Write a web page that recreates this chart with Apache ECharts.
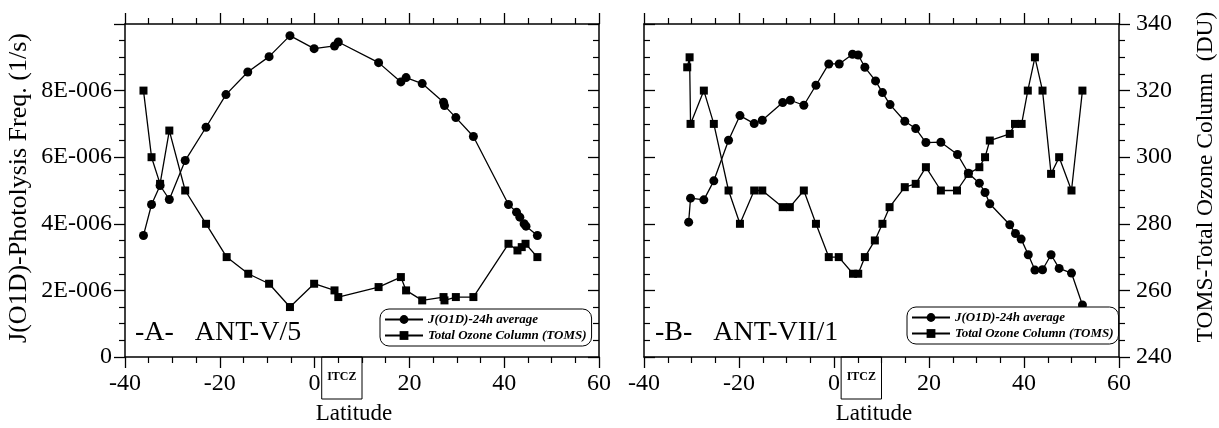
<!DOCTYPE html>
<html>
<head>
<meta charset="utf-8">
<script src="https://cdn.jsdelivr.net/npm/echarts@6/dist/echarts.min.js"></script>
<style>
  html, body { margin: 0; padding: 0; background: #fff; }
  #chart { width: 1219px; height: 428px; }
</style>
</head>
<body>
<div id="chart"></div>
<script>
// Panel A (ANT-V/5): J(O1D) 24h averages and TOMS total ozone along the cruise track
const latA_J = [-36.1, -34.4, -32.6, -30.65, -27.3, -22.9, -18.7, -14.1, -9.6, -5.2, -0.1, 4.2, 5.0, 13.5, 18.2, 19.3, 22.7, 27.2, 27.4, 29.8, 33.5, 40.9, 42.6, 43.3, 44.2, 44.6, 47.0];
const jA = [3.65e-6, 4.58e-6, 5.15e-6, 4.73e-6, 5.90e-6, 6.90e-6, 7.88e-6, 8.56e-6, 9.02e-6, 9.65e-6, 9.26e-6, 9.34e-6, 9.46e-6, 8.84e-6, 8.26e-6, 8.39e-6, 8.21e-6, 7.65e-6, 7.55e-6, 7.19e-6, 6.62e-6, 4.58e-6, 4.35e-6, 4.20e-6, 4.00e-6, 3.93e-6, 3.65e-6];
const latA_O = [-36.1, -34.4, -32.6, -30.65, -27.3, -22.9, -18.55, -14.0, -9.6, -5.2, -0.1, 4.2, 5.0, 13.5, 18.2, 19.3, 22.7, 27.2, 27.4, 29.8, 33.5, 40.9, 42.8, 43.7, 44.5, 47.0];
const ozA = [320, 300, 292, 308, 290, 280, 270, 265, 262, 255, 262, 260, 258, 261, 264, 260, 257, 258, 257, 258, 258, 274, 272, 273, 274, 270];

// Panel B (ANT-VII/1)
const latB_J = [-30.6, -30.2, -27.4, -25.3, -22.2, -19.8, -16.8, -15.1, -10.8, -9.2, -6.35, -3.8, -1.1, 1.1, 3.9, 5.1, 6.5, 8.75, 10.2, 11.8, 14.9, 17.2, 19.35, 22.5, 26.0, 28.3, 30.6, 31.8, 32.8, 37.0, 38.2, 39.4, 40.9, 42.3, 43.9, 45.7, 47.4, 50.0, 52.3];
const jB = [4.05e-6, 4.77e-6, 4.72e-6, 5.29e-6, 6.51e-6, 7.25e-6, 7.01e-6, 7.11e-6, 7.64e-6, 7.71e-6, 7.56e-6, 8.16e-6, 8.80e-6, 8.80e-6, 9.09e-6, 9.07e-6, 8.70e-6, 8.29e-6, 7.94e-6, 7.58e-6, 7.08e-6, 6.86e-6, 6.44e-6, 6.45e-6, 6.08e-6, 5.52e-6, 5.22e-6, 4.94e-6, 4.60e-6, 3.97e-6, 3.71e-6, 3.54e-6, 3.07e-6, 2.61e-6, 2.62e-6, 3.07e-6, 2.66e-6, 2.52e-6, 1.56e-6];
const latB_O = [-30.9, -30.4, -30.2, -27.4, -25.3, -22.2, -19.8, -16.8, -15.1, -10.8, -9.3, -6.35, -3.8, -1.1, 1.0, 4.0, 5.1, 6.5, 8.6, 10.2, 11.7, 14.9, 17.2, 19.35, 22.5, 25.9, 28.3, 30.6, 31.8, 32.8, 37.0, 38.1, 39.5, 40.8, 42.3, 43.9, 45.7, 47.4, 50.0, 52.3];
const ozB = [327, 330, 310, 320, 310, 290, 280, 290, 290, 285, 285, 290, 280, 270, 270, 265, 265, 270, 275, 280, 285, 291, 292, 297, 290, 290, 295, 297, 300, 305, 307, 310, 310, 320, 330, 320, 295, 300, 290, 320];

// Axis ranges and tick steps
const latRange = [-40, 60], latStep = 20;
const jRange = [0, 1e-5], jStep = 2e-6;
const ozRange = [240, 340], ozStep = 20;
const itczBand = [1.5, 10];

const NAME_J = 'J(O1D)-24h average';
const NAME_O = 'Total Ozone Column (TOMS)';
const FONT = 'Liberation Serif';

const zip = (xs, ys) => xs.map((x, i) => [x, ys[i]]);

const chart = echarts.init(document.getElementById('chart'), null, { renderer: 'canvas' });

const axisLine = { show: true, onZero: false, lineStyle: { color: '#000', width: 1.5 } };
function ticks(inside) {
  return {
    axisTick: { show: true, inside: inside, length: 11, lineStyle: { color: '#000', width: 1.3 } },
    minorTick: { show: true, splitNumber: 4, length: 6, lineStyle: { color: '#000', width: 1.2 } }
  };
}

function xAxes(grid) {
  return [
    Object.assign({
      type: 'value', gridIndex: grid, position: 'bottom', min: latRange[0], max: latRange[1], interval: latStep,
      axisLine: axisLine, splitLine: { show: false },
      axisLabel: { color: '#000', fontFamily: FONT, fontSize: 24, margin: 15 }
    }, ticks(false)),
    Object.assign({
      type: 'value', gridIndex: grid, position: 'top', min: latRange[0], max: latRange[1], interval: latStep,
      axisLine: axisLine, splitLine: { show: false }, axisLabel: { show: false }
    }, ticks(false))
  ];
}

function jAxis(grid, labelled) {
  return Object.assign({
    type: 'value', gridIndex: grid, position: 'left', min: jRange[0], max: jRange[1], interval: jStep,
    axisLine: axisLine, splitLine: { show: false },
    axisLabel: {
      show: labelled, color: '#000', fontFamily: FONT, fontSize: 24, margin: 13, showMaxLabel: false,
      formatter: v => (Math.abs(v) < 1e-12 ? '0' : Math.round(v * 1e6) + 'E-006')
    }
  }, ticks(!labelled));
}

function ozAxis(grid, labelled) {
  return Object.assign({
    type: 'value', gridIndex: grid, position: 'right', min: ozRange[0], max: ozRange[1], interval: ozStep,
    axisLine: axisLine, splitLine: { show: false },
    axisLabel: { show: labelled, color: '#000', fontFamily: FONT, fontSize: 24, margin: 17 }
  }, ticks(!labelled));
}

function series(xIdx, yIdx, name, data, symbol, size) {
  return {
    type: 'line', name: name, xAxisIndex: xIdx, yAxisIndex: yIdx, data: data,
    symbol: symbol, symbolSize: size, showSymbol: true, animation: false,
    lineStyle: { color: '#000', width: 1.3 }, itemStyle: { color: '#000' }
  };
}

function legend(left, top) {
  return {
    orient: 'vertical', left: left, top: top, data: [NAME_J, NAME_O],
    itemWidth: 38, itemHeight: 11, itemGap: 3, padding: [4, 5, 4, 4],
    borderColor: '#000', borderWidth: 1, borderRadius: 9, backgroundColor: '#fff',
    textStyle: { color: '#000', fontFamily: FONT, fontStyle: 'italic', fontWeight: 'bold', fontSize: 13 },
    selectedMode: false
  };
}

const option = {
  backgroundColor: '#fff',
  animation: false,
  grid: [
    { left: 125, top: 24, width: 474, height: 333 },
    { left: 644, top: 24, width: 475, height: 333 }
  ],
  xAxis: [...xAxes(0), ...xAxes(1)],
  yAxis: [jAxis(0, true), ozAxis(0, false), jAxis(1, false), ozAxis(1, true)],
  legend: [legend(380, 309), legend(907, 307)],
  series: [
    series(0, 0, NAME_J, zip(latA_J, jA), 'circle', 9),
    series(0, 1, NAME_O, zip(latA_O, ozA), 'rect', 8),
    series(2, 2, NAME_J, zip(latB_J, jB), 'circle', 9),
    series(2, 3, NAME_O, zip(latB_O, ozB), 'rect', 8)
  ]
};
chart.setOption(option);

// Titles, panel tags and ITCZ boxes below each latitude axis
function itczBox(xAxisIndex) {
  const x0 = chart.convertToPixel({ xAxisIndex: xAxisIndex }, itczBand[0]);
  const x1 = chart.convertToPixel({ xAxisIndex: xAxisIndex }, itczBand[1]);
  return [
    { type: 'rect', shape: { x: x0, y: 357, width: x1 - x0, height: 42 },
      style: { fill: 'none', stroke: '#000', lineWidth: 1 } },
    { type: 'text', x: (x0 + x1) / 2, y: 377,
      style: { text: 'ITCZ', fill: '#000', font: 'bold 12px "' + FONT + '"', align: 'center', verticalAlign: 'middle' } }
  ];
}

const textStyle = size => ({ fill: '#000', font: size + 'px "' + FONT + '"', align: 'center', verticalAlign: 'middle' });

chart.setOption({
  graphic: [
    ...itczBox(0), ...itczBox(2),
    { type: 'text', x: 354, y: 414, style: Object.assign({ text: 'Latitude' }, textStyle(23)) },
    { type: 'text', x: 874, y: 414, style: Object.assign({ text: 'Latitude' }, textStyle(23)) },
    { type: 'text', x: 19, y: 188, rotation: Math.PI / 2, style: Object.assign({ text: 'J(O1D)-Photolysis Freq. (1/s)' }, textStyle(26)) },
    { type: 'text', x: 1206, y: 177, rotation: Math.PI / 2, style: Object.assign({ text: 'TOMS-Total Ozone Column  (DU)' }, textStyle(23.5)) },
    { type: 'text', x: 135, y: 333, style: { text: '-A-   ANT-V/5', fill: '#000', font: '28px "' + FONT + '"', align: 'left', verticalAlign: 'middle' } },
    { type: 'text', x: 655, y: 333, style: { text: '-B-   ANT-VII/1', fill: '#000', font: '28px "' + FONT + '"', align: 'left', verticalAlign: 'middle' } }
  ]
});
</script>
</body>
</html>
